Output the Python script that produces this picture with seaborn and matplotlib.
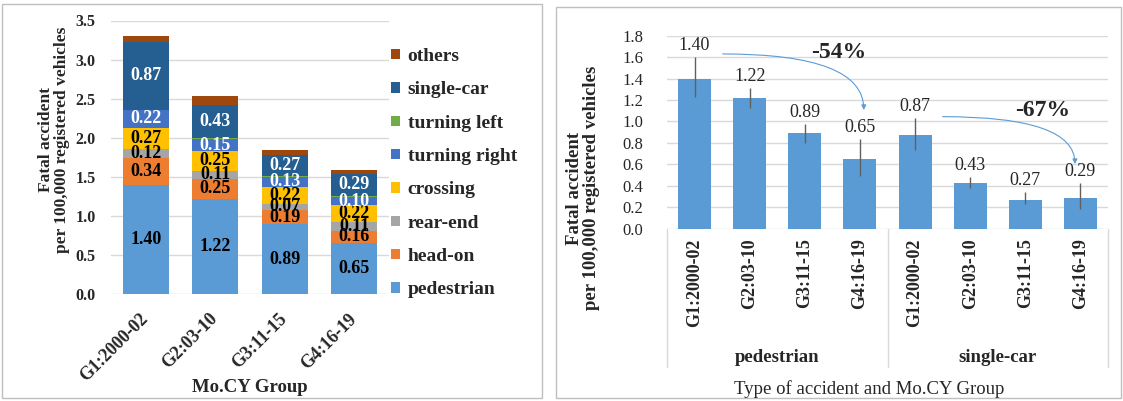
import numpy as np
import pandas as pd
import matplotlib
matplotlib.use("Agg")
import matplotlib.pyplot as plt
import seaborn as sns
from matplotlib.patches import Patch, Rectangle
from matplotlib.transforms import blended_transform_factory

# ---------------- data ----------------
groups = ["G1:2000-02", "G2:03-10", "G3:11-15", "G4:16-19"]
pedestrian = [1.40, 1.22, 0.89, 0.65]
head_on = [0.34, 0.25, 0.19, 0.16]
rear_end = [0.12, 0.11, 0.07, 0.11]
crossing = [0.27, 0.25, 0.22, 0.22]
turning_right = [0.22, 0.15, 0.13, 0.10]
turning_left = [0.01, 0.01, 0.01, 0.01]
single_car = [0.87, 0.43, 0.27, 0.29]
others = [0.07, 0.11, 0.06, 0.05]

series_names = ["pedestrian", "head-on", "rear-end", "crossing",
                "turning right", "turning left", "single-car", "others"]
series_values = [pedestrian, head_on, rear_end, crossing,
                 turning_right, turning_left, single_car, others]
series_colors = ["#5B9BD5", "#ED7D31", "#A5A5A5", "#FFC000",
                 "#4472C4", "#70AD47", "#255E91", "#9E480E"]
label_colors = ["black", "black", "black", "black",
                "white", None, "white", None]

accident_types = ["pedestrian", "single-car"]
ped_err_low = [0.17, 0.09, 0.09, 0.16]
ped_err_high = [0.20, 0.09, 0.09, 0.19]
sc_err_low = [0.14, 0.05, 0.04, 0.11]
sc_err_high = [0.16, 0.055, 0.07, 0.14]
changes = ["-54%", "-67%"]

# ---------------- style ----------------
sns.set_theme(style="white")
plt.rcParams["font.family"] = ["Liberation Serif", "DejaVu Serif"]

W, H = 1123, 401
fig = plt.figure(figsize=(W / 100, H / 100), dpi=100)
grid_col = "#D9D9D9"

# panel borders
for (x0, y0, x1, y1) in [(2, 4, 542, 398), (556, 7, 1121, 398)]:
    fig.patches.append(Rectangle((x0 / W, 1 - y1 / H), (x1 - x0) / W, (y1 - y0) / H,
                                 transform=fig.transFigure, fill=False,
                                 ec="#BFBFBF", lw=1))

# ---------------- left: stacked bars ----------------
axL = fig.add_axes([111 / W, 1 - 294 / H, 278 / W, 273.5 / H])
bottom = np.zeros(len(groups))
for name, vals, col, lcol in zip(series_names, series_values, series_colors, label_colors):
    sns.barplot(x=groups, y=vals, color=col, bottom=bottom.copy(), width=0.66,
                saturation=1, linewidth=0, errorbar=None, ax=axL, zorder=3)
    if lcol is not None:
        for i, v in enumerate(vals):
            axL.text(i, bottom[i] + v / 2, f"{v:.2f}", ha="center", va="center",
                     color=lcol, fontsize=13, fontweight="bold", zorder=5)
    bottom += np.array(vals)

axL.set_ylim(0, 3.5)
axL.set_xlim(-0.5, 3.5)
axL.set_yticks(np.arange(0, 3.51, 0.5))
axL.set_yticklabels([f"{t:.1f}" for t in np.arange(0, 3.51, 0.5)],
                    fontsize=11.5, fontweight="bold")
axL.yaxis.grid(True, color=grid_col, lw=1, zorder=0)
axL.set_axisbelow(True)
for s in axL.spines.values():
    s.set_visible(False)
axL.tick_params(axis="both", length=0)
axL.tick_params(axis="y", pad=11)
axL.tick_params(axis="x", pad=16)
axL.set_xticks(range(len(groups)))
axL.set_xticklabels(groups, rotation=45, ha="right", va="center",
                    rotation_mode="anchor", fontsize=13, fontweight="bold")
axL.set_xlabel("")
axL.set_ylabel("")
fig.text(250 / W, 1 - 387 / H, "Mo.CY Group", ha="center", va="center",
         fontsize=13.5, fontweight="bold")
fig.text(54 / W, 1 - 140 / H, "Fatal accident\nper 100,000 registered vehicles",
         rotation=90, ha="center", va="center", multialignment="center",
         fontsize=12.5, fontweight="bold", linespacing=1.0)

handles = [Patch(facecolor=c, edgecolor="none", label=n)
           for n, c in zip(series_names[::-1], series_colors[::-1])]
fig.legend(handles=handles, loc="upper left", bbox_to_anchor=(391 / W, 1 - 48 / H),
           frameon=False, prop=dict(weight="bold", size=14),
           handlelength=0.45, handleheight=0.45, handletextpad=0.4,
           labelspacing=0.84, borderpad=0, borderaxespad=0)

# ---------------- right: pedestrian vs single-car ----------------
axR = fig.add_axes([667 / W, 1 - 228.7 / H, 441 / W, 193 / H])
keys = [f"{t}|{g}" for t in accident_types for g in groups]
vals_r = pedestrian + single_car
err_low = ped_err_low + sc_err_low
err_high = ped_err_high + sc_err_high
df_r = pd.DataFrame({"key": keys, "value": vals_r})
sns.barplot(data=df_r, x="key", y="value", color="#5B9BD5", width=0.6,
            saturation=1, linewidth=0, errorbar=None, ax=axR, zorder=3)
xpos = np.arange(len(keys))
axR.errorbar(xpos, vals_r, yerr=[err_low, err_high], fmt="none",
             ecolor="#606060", elinewidth=1, capsize=0, zorder=4)
for x, v, eh in zip(xpos, vals_r, err_high):
    axR.annotate(f"{v:.2f}", (x, v + eh), xytext=(0, 2), textcoords="offset points",
                 ha="center", va="bottom", fontsize=13)

axR.set_ylim(0, 1.8)
axR.set_xlim(-0.5, 7.5)
yt = np.arange(0, 1.81, 0.2)
axR.set_yticks(yt)
axR.set_yticklabels([f"{t:.1f}" for t in yt], fontsize=12)
axR.yaxis.grid(True, color=grid_col, lw=1, zorder=0)
axR.set_axisbelow(True)
for s in axR.spines.values():
    s.set_visible(False)
axR.tick_params(axis="both", length=0)
axR.tick_params(axis="y", pad=17)
axR.tick_params(axis="x", pad=7)
axR.set_xticks(xpos)
axR.set_xticklabels(groups * 2, rotation=90, fontsize=13, fontweight="bold")
axR.set_xlabel("")
axR.set_ylabel("")

blend = blended_transform_factory(axR.transData, axR.transAxes)
for xx in [-0.5, 3.5, 7.5]:
    axR.plot([xx, xx], [0, -0.717], transform=blend, clip_on=False,
             color=grid_col, lw=1)
for i, t in enumerate(accident_types):
    axR.text(1.5 + 4 * i, -0.665, t, transform=blend, ha="center", va="center",
             fontsize=13.5, fontweight="bold")

fig.text(869 / W, 1 - 389 / H, "Type of accident and Mo.CY Group",
         ha="center", va="center", fontsize=13.5)
fig.text(583 / W, 1 - 188 / H, "Fatal accident\nper 100,000 registered vehicles",
         rotation=90, ha="center", va="center", multialignment="center",
         fontsize=13.5, fontweight="bold", linespacing=1.0)

# change annotations
arrow_props = dict(arrowstyle="-|>", color="#5B9BD5", lw=0.8, mutation_scale=7,
                   connectionstyle="angle3,angleA=0,angleB=90",
                   shrinkA=0, shrinkB=0)
axR.annotate("", xy=(3.07, 1.107), xytext=(0.51, 1.63), arrowprops=arrow_props)
axR.annotate("", xy=(6.90, 0.603), xytext=(4.50, 1.045), arrowprops=arrow_props)
axR.text(2.62, 1.643, changes[0], ha="center", va="center", fontsize=17, fontweight="bold")
axR.text(6.32, 1.10, changes[1], ha="center", va="center", fontsize=17, fontweight="bold")

fig.savefig("out.png", dpi=100)
